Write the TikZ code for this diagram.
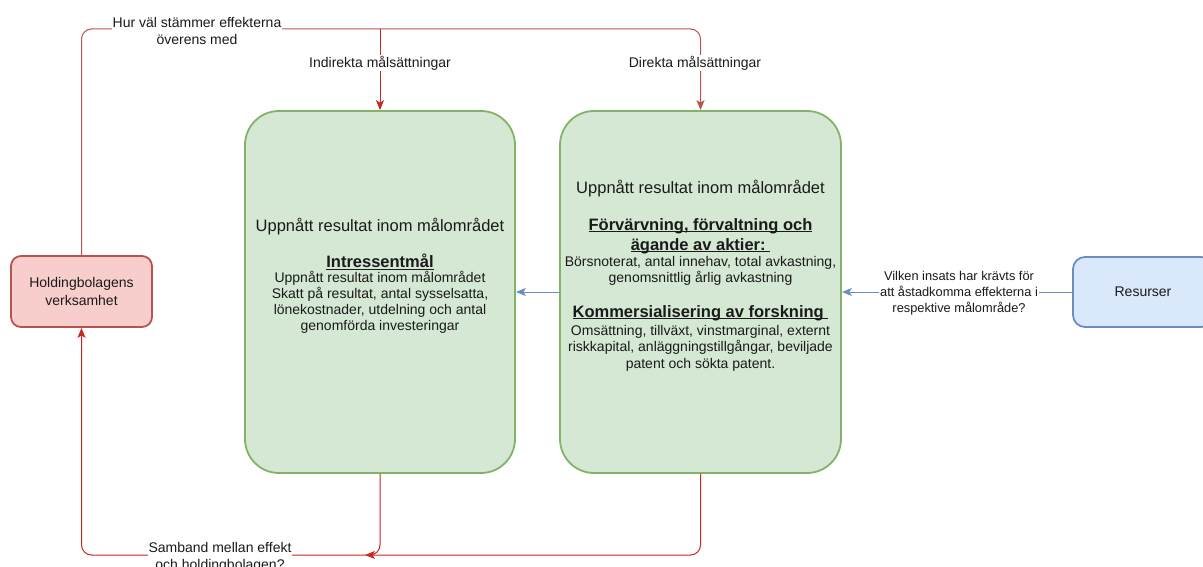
\documentclass[tikz,border=0pt]{standalone}
\usepackage{fontspec}
\setmainfont{Liberation Sans}
\usetikzlibrary{arrows.meta}

\definecolor{gfill}{HTML}{D5E8D4}
\definecolor{gline}{HTML}{82B366}
\definecolor{rfill}{HTML}{F8CECC}
\definecolor{rline}{HTML}{B85450}
\definecolor{bfill}{HTML}{DAE8FC}
\definecolor{bline}{HTML}{6C8EBF}
\definecolor{redlink}{HTML}{C8281E}
\definecolor{ink}{HTML}{1A1A1A}

\newcommand{\fsz}[2]{\fontsize{#1}{#2}\selectfont}
% underline set just below the baseline, crossing the descenders
\newsavebox{\ulinebox}
\newcommand{\ulx}[1]{\sbox{\ulinebox}{#1}\rlap{\rule[-2.2pt]{\wd\ulinebox}{1.2pt}}\usebox{\ulinebox}}

\begin{document}
\begin{tikzpicture}[x=1pt,y=-1pt,
  every node/.style={text=ink},
  goalbox/.style={draw=gline, fill=gfill, line width=1.8pt, rounded corners=34pt,
    minimum height=362pt, inner sep=0pt},
  holdbox/.style={draw=rline, fill=rfill, line width=1.8pt, rounded corners=10pt,
    minimum width=141pt, minimum height=71pt, align=center, font=\fsz{14}{18}},
  resbox/.style={draw=bline, fill=bfill, line width=1.8pt, rounded corners=12pt,
    minimum width=140pt, minimum height=70pt, font=\fsz{14}{17}},
  lbl/.style={align=center, fill=white, inner sep=1pt, font=\fsz{14}{17}},
  txt/.style={align=center, inner sep=0pt},
  tip/.style={-{Stealth[length=10pt,width=8pt,inset=2.5pt]}},
  toplink/.style={draw=rline, line width=1pt, rounded corners=10pt},
  redarrow/.style={draw=redlink, line width=1pt, rounded corners=10pt},
  bluearrow/.style={draw=bline, line width=1pt}
]
\useasboundingbox (0,0) rectangle (1203,567);
\clip (0,0) rectangle (1203,567);

% main boxes
\node[goalbox, minimum width=270pt] (L) at (380,292) {};
\node[goalbox, minimum width=281pt] (R) at (700.5,292) {};
\node[holdbox] (H) at (81.5,291.5) {Holdingbolagens\\verksamhet};
\node[resbox] (S) at (1143,292) {Resurser};

% text of the left box
\node[txt, font=\fsz{16.5}{20}] (Lt) at (380,227) {Uppnått resultat inom målområdet};
\node[txt, font=\fsz{16.5}{20}\bfseries] (Lh) at (380,262) {\ulx{Intressentmål}};
\node[txt, font=\fsz{14}{16}] (Lb) at (380,302)
  {Uppnått resultat inom målområdet\\Skatt på resultat, antal sysselsatta,\\lönekostnader, utdelning och antal\\genomförda investeringar};

% text of the right box
\node[txt, font=\fsz{16.5}{20}] (Rt) at (700.5,189) {Uppnått resultat inom målområdet};
\node[txt, font=\fsz{16.5}{20}\bfseries] (Rh1) at (700.5,236)
  {\ulx{Förvärvning, förvaltning och}\\\ulx{ägande av aktier:\ }};
\node[txt, font=\fsz{14}{16}] (Rb1) at (700.5,271)
  {Börsnoterat, antal innehav, total avkastning,\\genomsnittlig årlig avkastning};
\node[txt, font=\fsz{16.5}{20}\bfseries] (Rh2) at (700.5,313) {\ulx{Kommersialisering av forskning\ }};
\node[txt, font=\fsz{14}{16.5}] (Rb2) at (700.5,348)
  {Omsättning, tillväxt, vinstmarginal, externt\\riskkapital, anläggningstillgångar, beviljade\\patent och sökta patent.};

% top feedback path
\coordinate (ttop) at (0,29);
\coordinate (tj) at (380,29);
\draw[toplink, tip] (H.north) -- (H.north |- ttop) -- (R.north |- ttop) -- (R.north);
\draw[redarrow, tip] (tj) -- (L.north);
\node[lbl] (hur) at (197,31) {Hur väl stämmer effekterna\\överens med};
\node[lbl] (ind) at (380,63) {Indirekta målsättningar};
\node[lbl] (dir) at (695,63) {Direkta målsättningar};

% bottom path
\coordinate (tbot) at (0,555);
\coordinate (bj) at (365,555);
\draw[redarrow, tip] (R.south) -- (R.south |- tbot) -- (H.south |- tbot) -- (H.south);
\draw[redarrow, tip] (L.south) -- (L.south |- tbot) -- (bj);
\node[lbl] (samb) at (220,557) {Samband mellan effekt\\och holdingbolagen?};

% resources
\draw[bluearrow, tip] (R.west) -- (L.east);
\draw[bluearrow, tip] (S.west) -- (R.east);
\node[lbl, font=\fsz{12.8}{16}] (ins) at (959,293)
  {Vilken insats har krävts för\\att åstadkomma effekterna i\\respektive målområde?};
\end{tikzpicture}
\end{document}
